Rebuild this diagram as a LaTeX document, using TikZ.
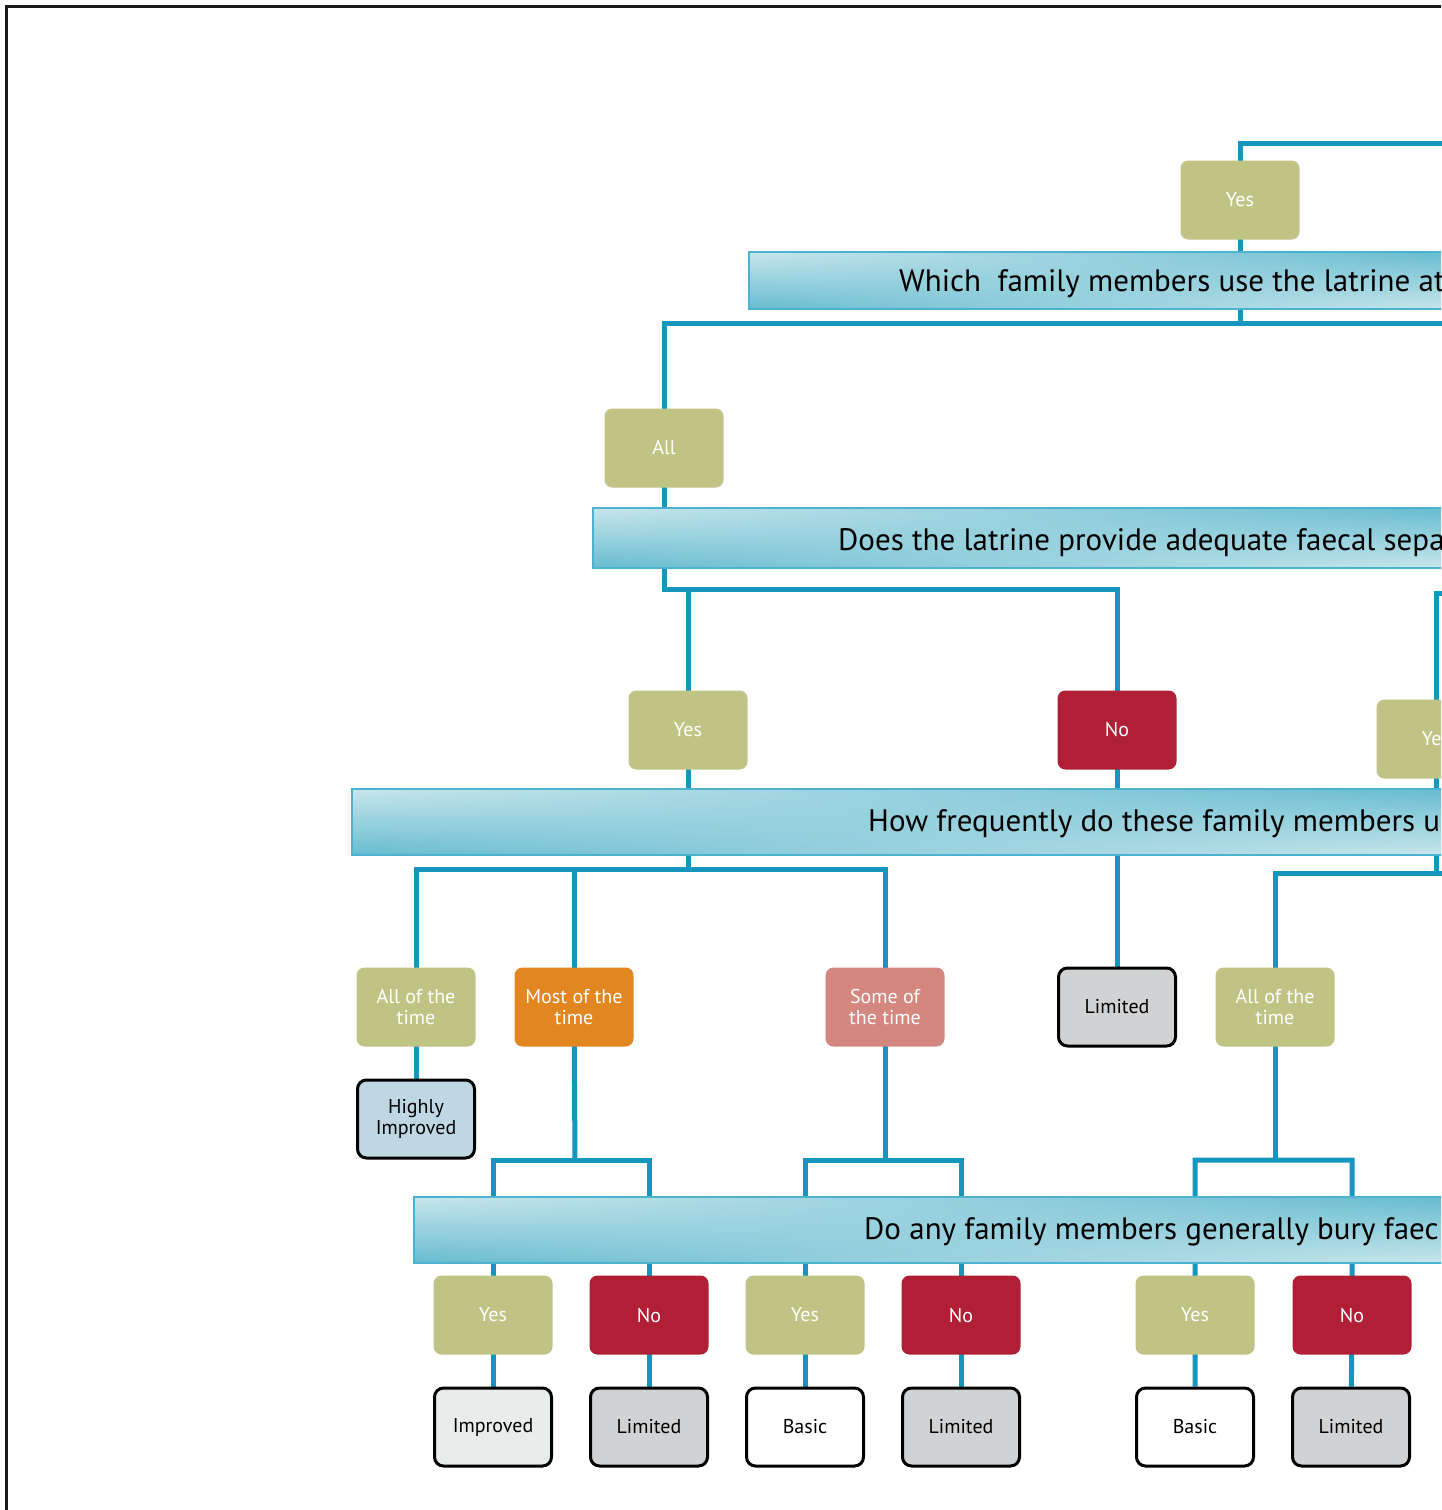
\documentclass[tikz,border=0pt]{standalone}
\usepackage{fontspec}
\setmainfont{PT Sans}
\usetikzlibrary{backgrounds,fadings}

\definecolor{linkblue}{HTML}{1596BE}
\definecolor{olive}{HTML}{BFC484}
\definecolor{wine}{HTML}{B01F35}
\definecolor{amber}{HTML}{E2861F}
\definecolor{salmon}{HTML}{D4877E}
\definecolor{greybox}{HTML}{D1D2D4}
\definecolor{paleblue}{HTML}{BFD6E3}
\definecolor{palegrey}{HTML}{E8ECEB}
\definecolor{bLight}{HTML}{C9E7EC}
\definecolor{bDark}{HTML}{67BCD1}
\definecolor{bEdge}{HTML}{4BB3CF}

% question banner: vertical gradient that turns over towards the right end
\newcommand\bannerbox[2]{%
  \shade[top color=bLight, bottom color=bDark] #1 rectangle #2;
  \shade[top color=bDark, bottom color=bLight, path fading=west] #1 rectangle #2;
  \draw[bEdge, line width=1.2pt] #1 rectangle #2;}

\tikzset{
  answer/.style={rounded corners=8pt, minimum width=119pt, minimum height=79pt,
    inner sep=0pt, text=white, align=center, font=\fontsize{20}{21}\selectfont},
  yesbox/.style={answer, fill=olive},
  nobox/.style={answer, fill=wine},
  result/.style={rounded corners=9pt, draw=black, line width=3pt,
    minimum width=117pt, minimum height=78pt, inner sep=0pt, text=black,
    align=center, font=\fontsize{20}{21}\selectfont},
  question/.style={anchor=base west, inner sep=0pt, text=black,
    font=\fontsize{31}{36}\selectfont},
  link/.style={draw=linkblue, line width=5pt},
}

\begin{document}
\begin{tikzpicture}[x=1pt, y=-1pt]
\useasboundingbox (0,0) rectangle (1441,1510);
\clip (0,0) rectangle (1441,1510);

% outer frame
\draw[line width=3pt, black!90] (6,1530) -- (6,6) -- (1460,6);

% question banners
\bannerbox{(749,252)}{(1445,309)}
\bannerbox{(593,508)}{(1445,568)}
\bannerbox{(352,789)}{(1445,855)}
\bannerbox{(414,1197)}{(1445,1263)}

\node[question] (q1) at (899,291) {Which\ \ family members use the latrine at};
\node[question] (q2) at (838,550) {Does the latrine provide adequate faecal sepa};
\node[question] (q3) at (868,831) {How frequently do these family members u};
\node[question] (q4) at (864,1239) {Do any family members generally bury faec};

% answer boxes
\node[yesbox] (yA) at (1240,200) {Yes};
\node[yesbox] (allA) at (664,448) {All};
\node[yesbox] (yB) at (688,730) {Yes};
\node[nobox] (nB) at (1117,730) {No};
\node[yesbox] (yC) at (1436,739) {Yes};

\node[yesbox] (allC) at (416,1007) {All of the\\time};
\node[answer, fill=amber] (most) at (574,1007) {Most of the\\time};
\node[answer, fill=salmon] (some) at (885,1007) {Some of\\the time};
\node[result, fill=greybox] (limB) at (1117,1007) {Limited};
\node[yesbox] (allD) at (1275,1007) {All of the\\time};
\node[result, fill=paleblue] (hi) at (416,1119) {Highly\\Improved};

\node[yesbox] (y1) at (493,1315) {Yes};
\node[nobox] (n1) at (649,1315) {No};
\node[yesbox] (y2) at (805,1315) {Yes};
\node[nobox] (n2) at (961,1315) {No};
\node[yesbox] (y3) at (1195,1315) {Yes};
\node[nobox] (n3) at (1352,1315) {No};

% outcome boxes
\node[result, fill=palegrey] (r1) at (493,1427) {Improved};
\node[result, fill=greybox] (r2) at (649,1427) {Limited};
\node[result, fill=white] (r3) at (805,1427) {Basic};
\node[result, fill=greybox] (r4) at (961,1427) {Limited};
\node[result, fill=white] (r5) at (1195,1427) {Basic};
\node[result, fill=greybox] (r6) at (1351,1427) {Limited};

% junction points of the connectors
\coordinate (eTop) at (1460,143);
\coordinate (e1) at (1460,323);
\coordinate (j2) at (664,589);
\coordinate (eC) at (1460,593);
\coordinate (j3) at (688,869);
\coordinate (k) at (1275,873);
\coordinate (kR) at (1460,873);
\coordinate (m1) at (575,1160);
\coordinate (m2) at (885,1160);
\coordinate (m3) at (1275,1160);

\begin{scope}[on background layer]
  \fill[white] (0,0) rectangle (1441,1510);
  \draw[link] (eTop) -| (yA.center) -- (yA.center |- e1);
  \draw[link] (e1) -| (allA.center) -- (j2) -| (nB.center);
  \draw[link] (yB.center) |- (j2);
  \draw[link] (eC) -| (yC.center) |- (k) -- (allD.center);
  \draw[link] (yC.center |- k) -- (kR);
  \draw[link] (yB.center) -- (j3);
  \draw[link] (allC.center) |- (j3) -| (some.center);
  \draw[link] (most.center) -- (most.center |- j3);
  \draw[link] (nB.center) -- (limB);
  \draw[link] (allC.center) -- (hi);
  \draw[link] (most.center) -- (m1);
  \draw[link] (r1) -- (y1.center) |- (m1) -| (n1.center) -- (r2);
  \draw[link] (some.center) -- (m2);
  \draw[link] (r3) -- (y2.center) |- (m2) -| (n2.center) -- (r4);
  \draw[link] (allD.center) -- (m3);
  \draw[link] (r5) -- (y3.center) |- (m3) -| (n3.center) -- (r6);
\end{scope}
\end{tikzpicture}
\end{document}
